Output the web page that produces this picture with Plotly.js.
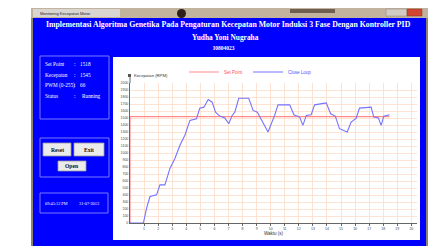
<!DOCTYPE html>
<html>
<head>
<meta charset="utf-8">
<script src="https://cdn.plot.ly/plotly-3.0.1.min.js"></script>
<style>html,body{margin:0;padding:0;background:#fff;}#chart{width:437px;height:246px;}</style>
</head>
<body>
<div id="chart"></div>
<script>
// ---- data ----
const timeClose = [0,0.95,1.18,1.42,1.89,2.13,2.48,2.84,3.19,3.55,3.90,4.26,4.73,4.96,5.25,5.56,5.84,6.08,6.38,6.74,7.02,7.26,7.45,7.73,8.44,8.75,9.05,9.34,9.62,9.81,10.05,10.28,10.52,11.35,11.65,12.06,12.29,12.53,12.88,13.12,13.95,14.26,14.59,14.89,15.44,15.72,16.08,16.31,17.14,17.33,17.66,17.85,18.04,18.44];
const speedClose = [0,0,213,378,402,544,544,780,922,1111,1253,1466,1489,1641,1655,1764,1726,1584,1527,1499,1418,1537,1584,1782,1782,1608,1584,1466,1371,1300,1418,1537,1688,1688,1546,1513,1395,1537,1546,1688,1716,1560,1527,1348,1300,1442,1499,1641,1655,1513,1499,1395,1527,1546];
const timeSet = [0,0,18.44];
const speedSet = [0,1520,1520];
const xTickVals = [1,2,3,4,5,6,7,8,9,10,11,12,13,14,15,16,17,18,19,20];
const xTickText = ["1","2","3","4","5","6","7","8","9","10","11","12","13","14","15","16","17","18","19","20"];

// ---- layout helpers (pixel -> paper) ----
const W=437,H=246,ML=130,MR=20,MT=83,MB=23;
const PW=W-ML-MR, PH=H-MT-MB;
const fx = p => (p-ML)/PW;
const fy = p => (H-MB-p)/PH;
function rect(x0,y0,x1,y1,fill,line,lw){
  return {type:'rect',xref:'paper',yref:'paper',x0:fx(x0),x1:fx(x1),y0:fy(y0),y1:fy(y1),
    fillcolor:fill||'rgba(0,0,0,0)',line:{color:line||'rgba(0,0,0,0)',width:lw||0},layer:'below'};
}
function circ(x0,y0,x1,y1,fill){
  return {type:'circle',xref:'paper',yref:'paper',x0:fx(x0),x1:fx(x1),y0:fy(y0),y1:fy(y1),
    fillcolor:fill,line:{width:0},layer:'below'};
}
function txt(x,y,s,size,color,anchor,bold,family){
  return {xref:'paper',yref:'paper',x:fx(x),y:fy(y),text:bold?'<b>'+s+'</b>':s,showarrow:false,
    xanchor:anchor||'left',yanchor:'middle',font:{size:size,color:color,family:family||'Liberation Serif, serif'}};
}

const shapes = [
  rect(31,8,428,18,'#c2b39f'),
  rect(33,9,120,17,'#d9d6d2'),
  circ(177,9,186,18,'#2e2018'),
  rect(290,9,335,13,'#6f5f50'),
  rect(386,9,407,16,'#d2cbc3','#8d857c',0.5),
  rect(407,9,422,16,'#d2452f','#8d3020',0.5),
  rect(31,18,428,246,'#8e8476'),
  rect(33,18,426,246,'#0000ff'),
  rect(40,56,109,119,'rgba(0,0,0,0)','#7b7bff',1),
  rect(40,138,109,177,'rgba(0,0,0,0)','#7b7bff',1),
  rect(40,193,108,213,'rgba(0,0,0,0)','#7b7bff',1),
  rect(43,143,71,156,'#ebebeb','#9a9a9a',0.8),
  rect(74,143,104,156,'#ebebeb','#9a9a9a',0.8),
  rect(58,161,86,171,'#ebebeb','#9a9a9a',0.8),
  rect(113,57,420,240,'#ffffff'),
  {type:'line',xref:'paper',yref:'paper',x0:0,x1:0,y0:1,y1:fy(76),line:{color:'#666',width:1},layer:'above'},
  rect(128,74,131,77,'#555')
];

const annotations = [
  txt(38,13,'Monitoring Kecepatan Motor',4,'#222','left',false,'Liberation Sans, sans-serif'),
  txt(228,25,'Implementasi Algoritma Genetika Pada Pengaturan Kecepatan Motor Induksi 3 Fase Dengan Kontroller PID',7.8,'#ffffff','center',true),
  txt(225,37,'Yudha Yoni Nugraha',7.4,'#ffffff','center',true),
  txt(224,48,'I0804023',5.5,'#ffffff','center',true),
  txt(43,64,'Set Point',5.3,'#ffffff'),
  txt(72,64,':',5.3,'#ffffff'),
  txt(78,64,'1518',5.3,'#ffffff'),
  txt(43,75,'Kecepatan',5.3,'#ffffff'),
  txt(72,75,':',5.3,'#ffffff'),
  txt(78,75,'1545',5.3,'#ffffff'),
  txt(43,85,'PWM (0-255)',5.3,'#ffffff'),
  txt(72,85,':',5.3,'#ffffff'),
  txt(78,85,'66',5.3,'#ffffff'),
  txt(43,96,'Status',5.3,'#ffffff'),
  txt(72,96,':',5.3,'#ffffff'),
  txt(80,96,'Running',5.3,'#ffffff'),
  txt(57,149.5,'Reset',5.6,'#111','center',true),
  txt(89,149.5,'Exit',5.6,'#111','center',true),
  txt(72,166,'Open',5.6,'#111','center',true),
  txt(43,203,'09:45:12 PM',4.3,'#ffffff'),
  txt(77,203,'31-07-2013',4.3,'#ffffff'),
  txt(132,75.5,'Kecepatan (RPM)',4.2,'#333','left',false,'Liberation Sans, sans-serif')
];

const traces = [
  {x:timeSet,y:speedSet,type:'scatter',mode:'lines',name:'<span style="color:#ff5050">Set Point</span>',
   line:{color:'#ff8a8a',width:1.2}},
  {x:timeClose,y:speedClose,type:'scatter',mode:'lines',name:'<span style="color:#5050ff">Close Loop</span>',
   line:{color:'#7474ff',width:1.1}}
];

const layout = {
  width:W,height:H,
  margin:{l:ML,r:MR,t:MT,b:MB,pad:0},
  paper_bgcolor:'#ffffff',plot_bgcolor:'rgba(0,0,0,0)',
  font:{family:'Liberation Sans, sans-serif',size:4,color:'#333'},
  showlegend:true,
  legend:{orientation:'h',x:fx(184),y:fy(57.5),xanchor:'left',yanchor:'top',
    font:{size:4.5,family:'Liberation Sans, sans-serif'},bgcolor:'rgba(0,0,0,0)',itemwidth:30,tracegroupgap:0},
  xaxis:{range:[0,20.4],tickvals:xTickVals,ticktext:xTickText,showgrid:true,gridcolor:'#fcdcc8',gridwidth:0.8,
    zeroline:false,showline:true,linecolor:'#666',linewidth:1,ticks:'outside',ticklen:2,tickcolor:'#666',
    tickfont:{size:3.5,color:'#444'},automargin:false,fixedrange:true,layer:'below traces',
    title:{text:'Waktu (s)',font:{size:4.5,color:'#333'},standoff:1}},
  yaxis:{range:[0,2000],dtick:100,showgrid:true,gridcolor:'#fcdcc8',gridwidth:0.8,
    zeroline:false,showline:true,linecolor:'#666',linewidth:1,ticks:'',layer:'below traces',
    tickfont:{size:3.5,color:'#444'},automargin:false,fixedrange:true},
  shapes:shapes,annotations:annotations
};

Plotly.newPlot('chart',traces,layout,{displayModeBar:false,staticPlot:true});
</script>
</body>
</html>
